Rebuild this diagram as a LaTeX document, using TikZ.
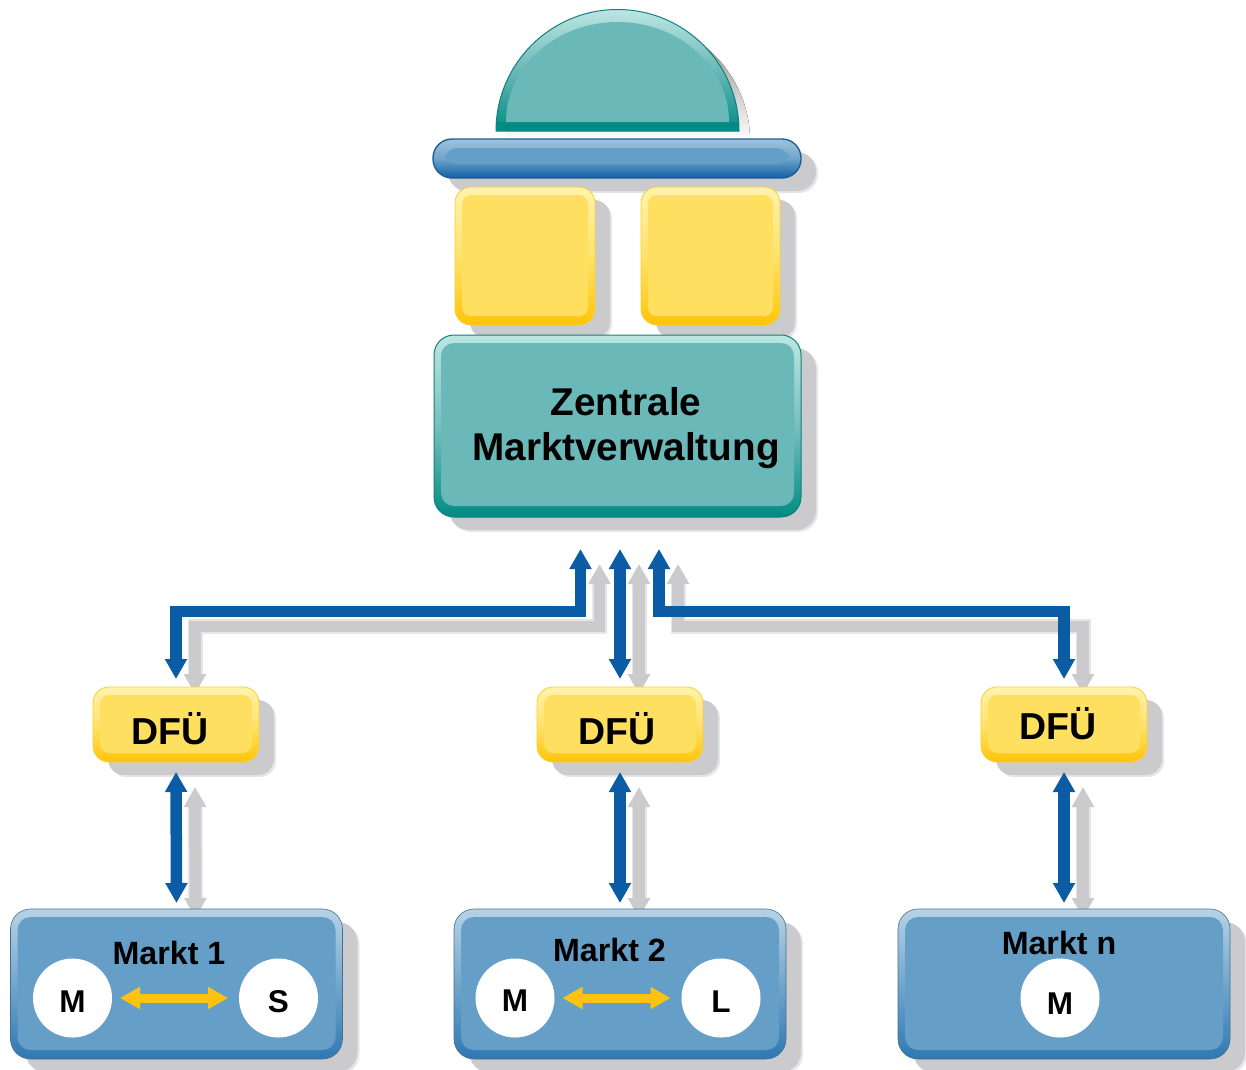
\documentclass[tikz,border=0pt]{standalone}
\usepackage{fontspec}
\setmainfont{Liberation Sans}
\usetikzlibrary{arrows.meta,shadows,backgrounds}
\definecolor{shade}{HTML}{CBCBCD}
\definecolor{shadesoft}{HTML}{E6E6E8}
\definecolor{tealmain}{HTML}{6AB8B8}
\definecolor{teallight}{HTML}{BCE6E2}
\definecolor{tealdark}{HTML}{008C84}
\definecolor{tealline}{HTML}{12807E}
\definecolor{bluemain}{HTML}{659FC7}
\definecolor{bluelight}{HTML}{B8D2E6}
\definecolor{bluedark}{HTML}{2F78B4}
\definecolor{barline}{HTML}{1F5F92}
\definecolor{bardark}{HTML}{0F5FA6}
\definecolor{yelmain}{HTML}{FFDF60}
\definecolor{yellight}{HTML}{FFF3AE}
\definecolor{yeldark}{HTML}{FFC408}
\definecolor{yelline}{HTML}{F8D030}
\definecolor{flowblue}{HTML}{0B5CA4}
\definecolor{swapyellow}{HTML}{FDC310}
\tikzset{
  insetx/.initial=7,
  insett/.initial=8,
  insetb/.initial=9,
  softshadow/.style 2 args={
    drop shadow={shadow xshift=#1+2pt,shadow yshift=-#2-2pt,fill=shadesoft,opacity=1},
    drop shadow={shadow xshift=#1,shadow yshift=-#2,fill=shade,opacity=1}},
  bevel/.style n args={8}{
    inner sep=0pt,outer sep=0pt,minimum width=#1,minimum height=#2,
    rounded corners=#3,
    softshadow={15pt}{13pt},
    top color=#5,bottom color=#6,middle color=#4!85!#5,draw=#7,line width=#8,
    path picture={
      \fill[#4,rounded corners=#3-7pt]
        ([shift={(\pgfkeysvalueof{/tikz/insetx},\pgfkeysvalueof{/tikz/insett})}]path picture bounding box.north west) rectangle
        ([shift={(-\pgfkeysvalueof{/tikz/insetx},-\pgfkeysvalueof{/tikz/insetb})}]path picture bounding box.south east);
    }},
  tealbox/.style 2 args={insetb=11,bevel={#1}{#2}{20pt}{tealmain}{teallight}{tealdark}{tealline}{1pt}},
  barbox/.style 2 args={insetx=12,insett=9,insetb=14,bevel={#1}{#2}{19pt}{bluemain}{bluelight!70!bluemain}{bardark}{barline}{1.4pt}},
  yelbox/.style 2 args={bevel={#1}{#2}{16pt}{yelmain}{yellight}{yeldark}{yelline}{0.8pt}},
  marktbox/.style 2 args={bevel={#1}{#2}{20pt}{bluemain}{bluelight}{bluedark}{bluemain!70!black}{0.6pt}},
  disc/.style={circle,fill=white,inner sep=0pt,outer sep=0pt,minimum size=79pt,font=\fontsize{31.5}{31.5}\bfseries\selectfont},
  bigtext/.style={anchor=base,inner sep=0pt,font=\fontsize{38.7}{38.7}\bfseries\selectfont},
  dfutext/.style={anchor=base,inner sep=0pt,font=\fontsize{37.5}{38}\bfseries\selectfont},
  markttext/.style={anchor=base,inner sep=0pt,font=\fontsize{32.2}{32}\bfseries\selectfont},
  flowtips/.style={{Triangle[length=20pt,width=21pt]}-{Triangle[length=20pt,width=21pt]}},
  flow/.style={flowtips,draw=flowblue,line width=11.5pt},
  flowshadesoft/.style={flowtips,draw=shadesoft,line width=15pt,transform canvas={shift={(19pt,-15pt)}}},
  flowshade/.style={flowtips,draw=shade,line width=11.5pt,transform canvas={shift={(19pt,-15pt)}}},
  swap/.style={{Triangle[length=20pt,width=21pt]}-{Triangle[length=20pt,width=21pt]},draw=swapyellow,line width=9pt},
}
\newcommand{\allconnectors}[1]{%
  \draw[#1,shorten >=8pt] (portL) -- (busL) -| (dfu1.north);
  \draw[#1,shorten <=8pt] (dfu2.north) -- (portM);
  \draw[#1,shorten >=8pt] (portR) -- (busR) -| (dfu3.north);
  \draw[#1,shorten <=10pt,shorten >=6pt] (dfu1.south) -- (markt1.north);
  \draw[#1,shorten <=10pt,shorten >=6pt] (dfu2.south) -- (markt2.north);
  \draw[#1,shorten <=10pt,shorten >=6pt] (dfu3.south) -- (markt3.north);
}
\begin{document}
\begin{tikzpicture}[x=1pt,y=-1pt]
\useasboundingbox (0,0) rectangle (1246,1069);
% dome
\fill[shade] (507,141) arc[start angle=180,end angle=360,radius=121.5] -- cycle;
\shade[top color=teallight,bottom color=tealdark,middle color=tealmain,draw=tealline,line width=1pt]
  (496,131) arc[start angle=180,end angle=360,radius=121.5] -- cycle;
\fill[tealdark] (497,122) rectangle (738,130.5);
\fill[tealmain] (506,122) arc[start angle=180,end angle=360,x radius=111.5,y radius=100] -- cycle;
% boxes
\node[barbox={368pt}{39pt}] (bar) at (617,158.5) {};
\node[yelbox={140pt}{138pt}] (yel1) at (525,256) {};
\node[yelbox={139pt}{138pt}] (yel2) at (710.5,256) {};
\node[tealbox={367pt}{182pt}] (zm) at (617.5,426) {};
\node[bigtext] (zmA) at (626,415) {Zentrale};
\node[bigtext] (zmB) at (626,460) {Marktverwaltung};
\node[yelbox={166pt}{75pt}] (dfu1) at (176,724.5) {};
\node[yelbox={166pt}{75pt}] (dfu2) at (620,724.5) {};
\node[yelbox={166pt}{75pt}] (dfu3) at (1064,724.5) {};
\node[dfutext] (dfuA) at (170,744) {DFÜ};
\node[dfutext] (dfuB) at (617,744) {DFÜ};
\node[dfutext] (dfuC) at (1058,739) {DFÜ};
\node[marktbox={332pt}{150pt}] (markt1) at (176.5,984) {};
\node[marktbox={332pt}{150pt}] (markt2) at (620,984) {};
\node[marktbox={332pt}{150pt}] (markt3) at (1064,984) {};
\node[markttext] (mA) at (169,964.5) {Markt 1};
\node[markttext] (mB) at (609.5,961.5) {Markt 2};
\node[markttext] (mC) at (1059,954.5) {Markt n};
\node[disc] (m1) at (72.5,998) {\raisebox{-3pt}[22pt][0pt]{M}};
\node[disc] (s1) at (278.5,998) {\raisebox{-3pt}[22pt][0pt]{S}};
\node[disc] (m2) at (515,998) {\raisebox{-2pt}[22pt][0pt]{M}};
\node[disc] (l2) at (721,998) {\raisebox{-3pt}[22pt][0pt]{L}};
\node[disc] (m3) at (1060,998) {\raisebox{-5pt}[22pt][0pt]{M}};
\draw[swap,shorten <=8pt,shorten >=11pt] (m1) -- (s1);
\draw[swap,shorten <=8pt,shorten >=11pt] (m2) -- (l2);
% connectors
\coordinate (portL) at (580.5,549);
\coordinate (busL) at (580.5,611.5);
\coordinate (portM) at (620,549);
\coordinate (portR) at (659,549);
\coordinate (busR) at (659,611.5);
\begin{pgfonlayer}{background}
  \allconnectors{flowshadesoft}
  \allconnectors{flowshade}
\end{pgfonlayer}
\allconnectors{flow}
\end{tikzpicture}
\end{document}
